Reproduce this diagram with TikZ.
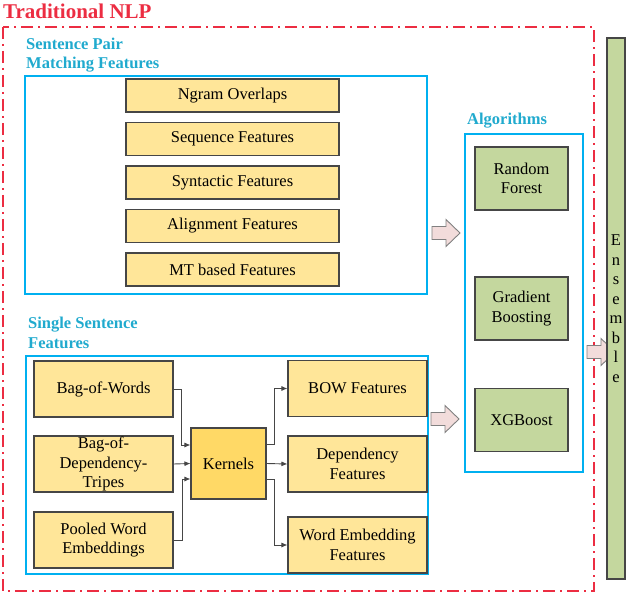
\documentclass[tikz,border=0pt]{standalone}
\usepackage{fontspec}
\setmainfont{Liberation Serif}
\usetikzlibrary{arrows.meta,calc}
\definecolor{nlpred}{RGB}{236,45,66}
\definecolor{grpblue}{RGB}{0,176,240}
\definecolor{grptitle}{RGB}{32,170,206}
\definecolor{featfill}{RGB}{255,230,153}
\definecolor{kernfill}{RGB}{255,217,102}
\definecolor{algfill}{RGB}{196,215,158}
\definecolor{pinkfill}{RGB}{242,220,219}
\definecolor{edgegray}{RGB}{70,70,70}
\tikzset{
  txt/.style={font=\fontsize{16.5}{19.5}\selectfont},
  featbox/.style={txt, draw=edgegray, line width=1.1pt, fill=featfill, inner sep=0pt, align=center},
  algbox/.style={featbox, fill=algfill, minimum width=93, minimum height=63},
  grpbox/.style={draw=grpblue, line width=1.6pt},
  grptitle/.style={font=\fontsize{16.5}{19.5}\selectfont\bfseries, text=grptitle, anchor=base west, align=left, inner sep=0pt},
  conn/.style={draw=edgegray, line width=0.9pt, -{Latex[length=6pt,width=5pt]}},
  blockarr/.style={draw=gray, line width=0.9pt, fill=pinkfill}
}
\newcommand{\pinkarrow}[1]{\draw[blockarr] (#1) ++(-14,-6.5) -- ++(14,0) -- ++(0,-7) -- ++(14,13.5) -- ++(-14,13.5) -- ++(0,-7) -- ++(-14,0) -- cycle;}
\begin{document}
\begin{tikzpicture}[x=1pt,y=-1pt]
\useasboundingbox (0,0) rectangle (628,593);
\draw [nlpred, line width=1.6pt, dash pattern=on 12pt off 5pt on 2pt off 5pt] (3,27) rectangle (594,591);
\node [anchor=base west, inner sep=0pt, text=nlpred, font=\fontsize{21}{24}\selectfont\bfseries] (nlp) at (3,19) {Traditional NLP};

\draw [grpbox] (25,76) rectangle (427,294);
\node [grptitle] (pairttl) at (26,69) {Sentence Pair\\Matching Features};
\foreach \t [count=\i] in {Ngram Overlaps, Sequence Features, Syntactic Features, Alignment Features, MT based Features}{\node [featbox, minimum width=213, minimum height=33] (pm\i) at (232.5, 52+43.5*\i) {\t};}

\draw [grpbox] (26,356) rectangle (428,574);
\node [grptitle] (singttl) at (28,348) {Single Sentence\\Features};
\node [featbox, minimum width=139, minimum height=56] (bow) at (103.5,389) {Bag-of-Words};
\node [featbox, minimum width=139, minimum height=56] (bodt) at (103.5,464) {Bag-of-\\Dependency-\\Tripes};
\node [featbox, minimum width=139, minimum height=56] (pwe) at (103.5,540) {Pooled Word\\Embeddings};
\node [featbox, fill=kernfill, minimum width=75, minimum height=71] (kern) at (228.5,463.5) {Kernels};
\node [featbox, minimum width=139, minimum height=56] (bowf) at (357.5,388.5) {BOW Features};
\node [featbox, minimum width=139, minimum height=56] (depf) at (357.5,464) {Dependency\\Features};
\node [featbox, minimum width=139, minimum height=56] (wef) at (357.5,545) {Word Embedding\\Features};
\draw [conn] (bow.east) -- ++(8,0) |- ($(kern.west)+(0,-18.5)$);
\draw [conn] (bodt.east) -- (kern.west);
\draw [conn] (pwe.east) -- ++(9,0) |- ($(kern.west)+(0,15.5)$);
\draw [conn] ($(kern.east)+(0,-19.5)$) -- ++(8,0) |- (bowf.west);
\draw [conn] (kern.east) -- (depf.west);
\draw [conn] ($(kern.east)+(0,15.5)$) -- ++(8,0) |- (wef.west);

\draw [grpbox] (465,134) rectangle (583,472);
\node [grptitle] (algttl) at (467,125) {Algorithms};
\node [algbox] (rf) at (521.5,178.5) {Random\\Forest};
\node [algbox] (gb) at (521.5,308.5) {Gradient\\Boosting};
\node [algbox] (xgb) at (521.5,420) {XGBoost};

\pinkarrow{446,233}
\pinkarrow{445,419}
\pinkarrow{601,352}
\node [algbox, minimum width=18, minimum height=541] (ens) at (616,308.5) {E\\n\\s\\e\\m\\b\\l\\e};
\end{tikzpicture}
\end{document}
